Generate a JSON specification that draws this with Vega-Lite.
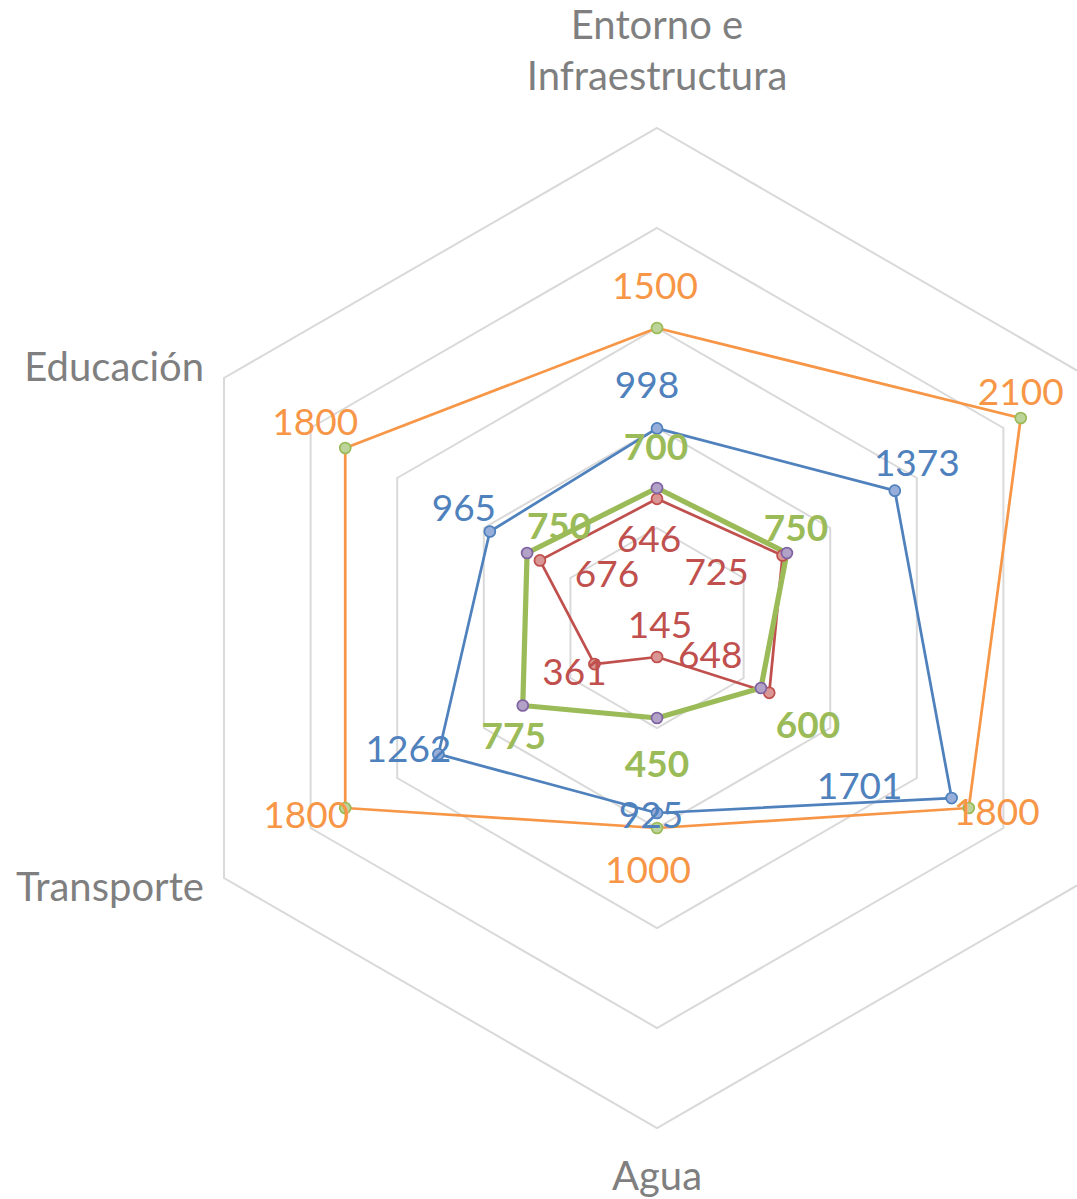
{
"$schema":"https://vega.github.io/schema/vega-lite/v6.json",
"width":1077,"height":1199,"padding":0,"autosize":{"type":"none"},
"background":"#ffffff",
"config":{"view":{"stroke":null},"text":{"font":"Lato","fontSize":37,"baseline":"middle","align":"center"}},
"datasets":{
 "valores":[
  {"serie":"naranja","eje":0,"valor":1500},{"serie":"naranja","eje":1,"valor":2100},{"serie":"naranja","eje":2,"valor":1800},{"serie":"naranja","eje":3,"valor":1000},{"serie":"naranja","eje":4,"valor":1800},{"serie":"naranja","eje":5,"valor":1800},
  {"serie":"azul","eje":0,"valor":998},{"serie":"azul","eje":1,"valor":1373},{"serie":"azul","eje":2,"valor":1701},{"serie":"azul","eje":3,"valor":925},{"serie":"azul","eje":4,"valor":1262},{"serie":"azul","eje":5,"valor":965},
  {"serie":"rojo","eje":0,"valor":646},{"serie":"rojo","eje":1,"valor":725},{"serie":"rojo","eje":2,"valor":648},{"serie":"rojo","eje":3,"valor":145},{"serie":"rojo","eje":4,"valor":361},{"serie":"rojo","eje":5,"valor":676},
  {"serie":"verde","eje":0,"valor":700},{"serie":"verde","eje":1,"valor":750},{"serie":"verde","eje":2,"valor":600},{"serie":"verde","eje":3,"valor":450},{"serie":"verde","eje":4,"valor":775},{"serie":"verde","eje":5,"valor":750}
 ],
 "anillos":[{"r":500,"eje":[0,1,2,3,4,5]},{"r":1000,"eje":[0,1,2,3,4,5]},{"r":1500,"eje":[0,1,2,3,4,5]},{"r":2000,"eje":[0,1,2,3,4,5]},{"r":2500,"eje":[0,1,2,3,4,5]}],
 "categorias":[{"eje":0,"nombre":"Entorno e\nInfraestructura"},{"eje":3,"nombre":"Agua"},{"eje":4,"nombre":"Transporte"},{"eje":5,"nombre":"Educación"}]
},
"encoding":{
 "x":{"field":"px","type":"quantitative","scale":{"domain":[-3285,2100],"nice":false,"zero":false},"axis":null},
 "y":{"field":"py","type":"quantitative","scale":{"domain":[-2855,3140],"nice":false,"zero":false},"axis":null}
},
"layer":[
 {"data":{"name":"anillos"},
  "transform":[{"flatten":["eje"]},{"calculate":"datum.r*cos(PI/2-datum.eje*PI/3)","as":"px"},{"calculate":"datum.r*sin(PI/2-datum.eje*PI/3)","as":"py"}],
  "mark":{"type":"line","interpolate":"linear-closed","stroke":"#D9D9D9","strokeWidth":2},
  "encoding":{"detail":{"field":"r","type":"nominal"},"order":{"field":"eje","type":"quantitative"}}},
 {"data":{"name":"categorias"},
  "transform":[{"calculate":"2500*cos(PI/2-datum.eje*PI/3)","as":"px"},{"calculate":"2500*sin(PI/2-datum.eje*PI/3)","as":"py"}],
  "encoding":{"text":{"field":"nombre","type":"nominal"}},
  "layer":[
   {"transform":[{"filter":"datum.eje==0"}],"mark":{"type":"text","color":"#7F7F7F","fontSize":40,"baseline":"top","lineBreak":"\n","lineHeight":51.4,"dy":-121}},
   {"transform":[{"filter":"datum.eje==3"}],"mark":{"type":"text","color":"#7F7F7F","fontSize":40,"baseline":"alphabetic","dy":62}},
   {"transform":[{"filter":"datum.eje==4"}],"mark":{"type":"text","color":"#7F7F7F","fontSize":40,"baseline":"alphabetic","align":"right","dx":-20,"dy":23}},
   {"transform":[{"filter":"datum.eje==5"}],"mark":{"type":"text","color":"#7F7F7F","fontSize":40,"baseline":"alphabetic","align":"right","dx":-20,"dy":3}}
  ]},
 {"data":{"name":"valores"},
  "transform":[{"calculate":"datum.valor*cos(PI/2-datum.eje*PI/3)","as":"px"},{"calculate":"datum.valor*sin(PI/2-datum.eje*PI/3)","as":"py"}],
  "layer":[
   {"transform":[{"filter":"datum.serie=='naranja'"}],"mark":{"type":"line","interpolate":"linear-closed","strokeJoin":"round","color":"#F79646","strokeWidth":2.75},"encoding":{"order":{"field":"eje","type":"quantitative"}}},
   {"transform":[{"filter":"datum.serie=='azul'"}],"mark":{"type":"line","interpolate":"linear-closed","strokeJoin":"round","color":"#4F81BD","strokeWidth":2.75},"encoding":{"order":{"field":"eje","type":"quantitative"}}},
   {"transform":[{"filter":"datum.serie=='rojo'"}],"mark":{"type":"line","interpolate":"linear-closed","strokeJoin":"round","color":"#C0504D","strokeWidth":2.75},"encoding":{"order":{"field":"eje","type":"quantitative"}}},
   {"transform":[{"filter":"datum.serie=='verde'"}],"mark":{"type":"line","interpolate":"linear-closed","strokeJoin":"round","color":"#9BBB59","strokeWidth":5.25},"encoding":{"order":{"field":"eje","type":"quantitative"}}},
   {"mark":{"type":"point","shape":"circle","filled":true,"size":120,"strokeWidth":1.75,"opacity":1},
    "encoding":{
     "fill":{"field":"serie","type":"nominal","scale":{"domain":["naranja","azul","rojo","verde"],"range":["#BCD39A","#98AEDA","#DA9694","#B3A2C7"]},"legend":null},
     "stroke":{"field":"serie","type":"nominal","scale":{"domain":["naranja","azul","rojo","verde"],"range":["#9BBB59","#4F81BD","#C0504D","#8064A2"]},"legend":null}}},
   {"transform":[{"filter":"datum.serie=='naranja'"}],
    "encoding":{"text":{"field":"valor","type":"quantitative","format":"d"}},
    "layer":[
     {"transform":[{"filter":"datum.eje==0"}],"mark":{"type":"text","color":"#F79646","dx":-2,"dy":-40}},
     {"transform":[{"filter":"datum.eje==1"}],"mark":{"type":"text","color":"#F79646","dx":0,"dy":-24}},
     {"transform":[{"filter":"datum.eje==2"}],"mark":{"type":"text","color":"#F79646","dx":28,"dy":6}},
     {"transform":[{"filter":"datum.eje==3"}],"mark":{"type":"text","color":"#F79646","dx":-9,"dy":44}},
     {"transform":[{"filter":"datum.eje==4"}],"mark":{"type":"text","color":"#F79646","dx":-39,"dy":9}},
     {"transform":[{"filter":"datum.eje==5"}],"mark":{"type":"text","color":"#F79646","dx":-30,"dy":-24}}
    ]},
   {"transform":[{"filter":"datum.serie=='azul'"}],
    "encoding":{"text":{"field":"valor","type":"quantitative","format":"d"}},
    "layer":[
     {"transform":[{"filter":"datum.eje==0"}],"mark":{"type":"text","color":"#4F81BD","dx":-10,"dy":-41}},
     {"transform":[{"filter":"datum.eje==1"}],"mark":{"type":"text","color":"#4F81BD","dx":22,"dy":-26}},
     {"transform":[{"filter":"datum.eje==2"}],"mark":{"type":"text","color":"#4F81BD","dx":-92,"dy":-10}},
     {"transform":[{"filter":"datum.eje==3"}],"mark":{"type":"text","color":"#4F81BD","dx":-6,"dy":4}},
     {"transform":[{"filter":"datum.eje==4"}],"mark":{"type":"text","color":"#4F81BD","dx":-30,"dy":-3}},
     {"transform":[{"filter":"datum.eje==5"}],"mark":{"type":"text","color":"#4F81BD","dx":-26,"dy":-22}}
    ]},
   {"transform":[{"filter":"datum.serie=='rojo'"}],
    "encoding":{"text":{"field":"valor","type":"quantitative","format":"d"}},
    "layer":[
     {"transform":[{"filter":"datum.eje==0"}],"mark":{"type":"text","color":"#C0504D","dx":-8,"dy":42}},
     {"transform":[{"filter":"datum.eje==1"}],"mark":{"type":"text","color":"#C0504D","dx":-66,"dy":18}},
     {"transform":[{"filter":"datum.eje==2"}],"mark":{"type":"text","color":"#C0504D","dx":-59,"dy":-36}},
     {"transform":[{"filter":"datum.eje==3"}],"mark":{"type":"text","color":"#C0504D","dx":3,"dy":-30}},
     {"transform":[{"filter":"datum.eje==4"}],"mark":{"type":"text","color":"#C0504D","dx":-20,"dy":10}},
     {"transform":[{"filter":"datum.eje==5"}],"mark":{"type":"text","color":"#C0504D","dx":67,"dy":16}}
    ]},
   {"transform":[{"filter":"datum.serie=='verde'"}],
    "encoding":{"text":{"field":"valor","type":"quantitative","format":"d"}},
    "layer":[
     {"transform":[{"filter":"datum.eje==0"}],"mark":{"type":"text","color":"#9BBB59","fontWeight":"bold","dx":-1,"dy":-39}},
     {"transform":[{"filter":"datum.eje==1"}],"mark":{"type":"text","color":"#9BBB59","fontWeight":"bold","dx":9,"dy":-23}},
     {"transform":[{"filter":"datum.eje==2"}],"mark":{"type":"text","color":"#9BBB59","fontWeight":"bold","dx":47,"dy":39}},
     {"transform":[{"filter":"datum.eje==3"}],"mark":{"type":"text","color":"#9BBB59","fontWeight":"bold","dx":0,"dy":48}},
     {"transform":[{"filter":"datum.eje==4"}],"mark":{"type":"text","color":"#9BBB59","fontWeight":"bold","dx":-9,"dy":32}},
     {"transform":[{"filter":"datum.eje==5"}],"mark":{"type":"text","color":"#9BBB59","fontWeight":"bold","dx":32,"dy":-25}}
    ]}
  ]}
]
}
